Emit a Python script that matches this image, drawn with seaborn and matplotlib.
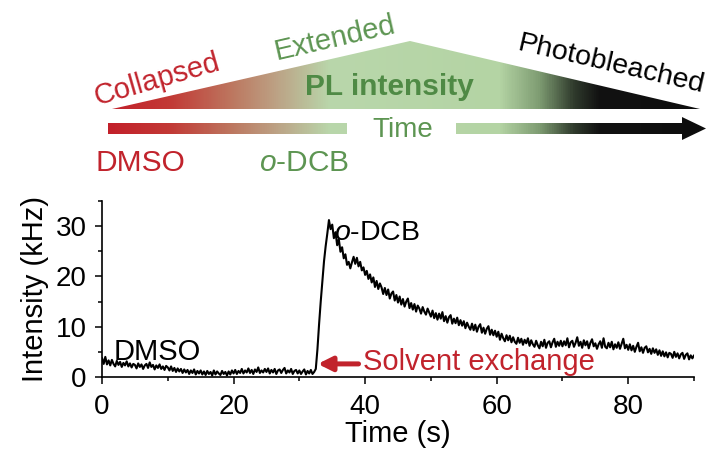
import numpy as np
import pandas as pd
import matplotlib
matplotlib.use("Agg")
import matplotlib.pyplot as plt
import seaborn as sns
from matplotlib.colors import LinearSegmentedColormap
from matplotlib.patches import Polygon, Rectangle

# Photoluminescence trace sampled every 0.25 s (kHz)
time_step = 0.25
intensity = [
    # 0 - 5 s
    3.8, 2.6, 4.0, 2.5, 3.3, 2.3, 3.4, 2.6, 2.1, 3.2, 2.4, 3.0, 2.0, 2.8, 2.3, 3.1, 2.1, 2.7, 1.9, 2.6,
    # 5 - 10 s
    2.4, 1.7, 2.7, 2.0, 2.5, 1.6, 2.3, 2.6, 1.8, 2.9, 2.0, 2.4, 1.5, 2.3, 1.8, 2.5, 1.6, 2.1, 1.4, 2.2,
    # 10 - 15 s
    1.9, 1.3, 2.1, 1.2, 1.8, 1.0, 1.7, 1.1, 1.6, 0.8, 1.5, 0.9, 1.4, 0.6, 1.3, 0.8, 1.5, 0.5, 1.2, 0.7,
    # 15 - 20 s
    1.3, 0.5, 1.1, 0.4, 1.2, 0.6, 1.0, 0.3, 1.3, 0.5, 1.1, 0.7, 0.4, 1.2, 0.6, 1.0, 0.3, 1.1, 0.5, 1.3,
    # 20 - 25 s
    0.7, 1.4, 0.6, 1.2, 0.8, 1.6, 0.7, 1.3, 0.9, 1.7, 0.8, 1.4, 0.6, 1.5, 1.0, 1.9, 0.8, 1.3, 0.9, 1.6,
    # 25 - 30 s
    1.0, 1.7, 0.7, 1.4, 0.9, 1.6, 0.6, 1.3, 1.5, 0.8, 1.4, 1.8, 0.7, 1.3, 0.9, 1.6, 0.6, 1.2, 1.4, 0.7,
    # 30 - 35 s (solvent exchange)
    1.3, 0.6, 1.1, 1.5, 0.5, 1.2, 0.7, 1.4, 0.6, 1.0, 1.6, 5.5, 10.5, 15.0, 19.0, 23.0, 26.0, 28.5, 31.2, 29.4,
    # 35 - 40 s
    30.3, 27.6, 28.8, 26.2, 27.4, 24.9, 25.8, 23.6, 24.4, 22.3, 22.9, 21.6, 22.8, 23.9, 22.5, 23.7, 22.0, 22.9, 21.2, 21.8,
    # 40 - 45 s
    20.3, 21.1, 19.5, 20.4, 18.8, 19.8, 17.9, 19.1, 17.5, 18.6, 17.8, 16.5, 17.7, 16.3, 17.4, 15.6, 16.6, 17.0, 15.2, 16.3,
    # 45 - 50 s
    14.8, 16.0, 14.4, 15.5, 14.0, 15.0, 15.6, 13.7, 14.7, 13.4, 14.5, 13.0, 14.2, 13.6, 12.6, 13.9, 13.0, 12.4, 13.6, 12.8,
    # 50 - 55 s
    12.0, 13.2, 11.7, 12.7, 11.4, 12.6, 11.6, 12.9, 11.1, 12.1, 10.8, 11.9, 12.3, 10.6, 11.6, 10.7, 11.8, 10.3, 11.3, 10.2,
    # 55 - 60 s
    11.1, 9.7, 10.8, 10.0, 9.4, 10.6, 9.3, 10.4, 9.0, 10.0, 10.5, 8.8, 9.8, 8.6, 9.6, 10.1, 8.4, 9.4, 8.3, 9.2,
    # 60 - 65 s
    8.0, 9.0, 7.4, 8.6, 7.7, 7.1, 8.3, 7.3, 8.2, 6.9, 7.9, 7.0, 6.6, 7.8, 6.8, 7.6, 6.4, 7.4, 6.7, 7.7,
    # 65 - 70 s
    6.2, 7.3, 6.5, 6.0, 7.2, 6.3, 5.7, 7.0, 6.1, 7.4, 5.8, 6.8, 7.1, 5.9, 6.9, 7.6, 6.0, 7.0, 6.2, 7.2,
    # 70 - 75 s
    6.1, 7.1, 6.3, 7.7, 5.9, 6.9, 7.2, 6.0, 6.8, 7.9, 6.2, 7.0, 5.8, 7.3, 6.3, 7.1, 5.7, 6.8, 7.5, 6.1,
    # 75 - 80 s
    6.7, 5.6, 6.5, 7.1, 5.8, 7.7, 6.0, 5.7, 6.8, 5.9, 7.0, 5.5, 6.5, 5.8, 6.9, 5.6, 6.6, 7.6, 5.7, 6.4,
    # 80 - 85 s
    5.4, 6.5, 5.3, 6.2, 5.0, 6.0, 6.8, 5.1, 5.9, 4.8, 5.8, 6.1, 4.9, 5.6, 4.6, 5.7, 4.8, 5.5, 4.4, 5.3,
    # 85 - 90 s
    4.2, 5.1, 4.1, 4.9, 3.9, 4.8, 4.6, 3.8, 5.0, 4.0, 4.7, 3.7, 4.5, 4.8, 3.6, 4.4, 4.7, 3.5, 4.3, 3.7,
    4.3,
]
time_s = np.arange(len(intensity)) * time_step

x_ticks = [0, 20, 40, 60, 80]
y_ticks = [0, 10, 20, 30]

RED = "#c1232c"
GREEN = "#4f8a45"
LIGHT_GREEN = "#5d9552"

sns.set_theme(style="ticks")
plt.rcParams["font.family"] = ["Liberation Sans", "DejaVu Sans"]
plt.rcParams["mathtext.fontset"] = "custom"
plt.rcParams["mathtext.rm"] = "Liberation Sans"
plt.rcParams["mathtext.it"] = "Liberation Sans:italic"

fig = plt.figure(figsize=(7.07, 4.57), dpi=100)

# ---- schematic: PL intensity vs. time, drawn in pixel coordinates ----
sk = fig.add_axes([0, 0, 1, 1])
sk.axis("off")

stops_px = [108, 170, 230, 280, 330, 500, 540, 575, 600, 706]
stops_col = ["#c3202a", "#c23a36", "#bd765f", "#bca688", "#b9d7ab",
             "#b4d4a4", "#7e9c72", "#2f3a2c", "#121212", "#0d0d0d"]
x0, x1 = stops_px[0], stops_px[-1]
cmap = LinearSegmentedColormap.from_list(
    "pl", list(zip([(p - x0) / (x1 - x0) for p in stops_px], stops_col)))
grad = np.linspace(0, 1, 800)[None, :]

shapes = [
    Polygon([(112, 109), (410, 41), (700, 109)], closed=True),
    Rectangle((108, 123), 239, 11),
    Polygon([(456, 123), (682, 123), (682, 117), (706, 128.5),
             (682, 140), (682, 134), (456, 134)], closed=True),
]
for shp in shapes:
    shp.set_facecolor("none")
    shp.set_edgecolor("none")
    sk.add_patch(shp)
    im = sk.imshow(grad, cmap=cmap, extent=[x0, x1, 145, 30],
                   aspect="auto", interpolation="bilinear")
    im.set_clip_path(shp)
sk.set_xlim(0, 707)
sk.set_ylim(457, 0)

sk.text(157, 80, "Collapsed", color=RED, fontsize=21, rotation=16,
        ha="center", va="center", rotation_mode="anchor")
sk.text(335, 38, "Extended", color=LIGHT_GREEN, fontsize=21, rotation=13,
        ha="center", va="center", rotation_mode="anchor")
sk.text(389, 87, "PL intensity", color=GREEN, fontsize=21.5, fontweight="bold",
        ha="center", va="center")
sk.text(611, 65, "Photobleached", color="black", fontsize=20.5, rotation=-13,
        ha="center", va="center", rotation_mode="anchor")
sk.text(403, 130, "Time", color=LIGHT_GREEN, fontsize=20,
        ha="center", va="center")
sk.text(140, 163, "DMSO", color=RED, fontsize=21.5, ha="center", va="center")
sk.text(304, 163, r"$\mathit{o}$-DCB", color=LIGHT_GREEN, fontsize=21.5,
        ha="center", va="center")

# ---- intensity trace ----
ax = fig.add_axes([0.1443, 0.1751, 0.8373, 0.3851])
ax.patch.set_alpha(0)
trace = pd.DataFrame({"Time (s)": time_s, "Intensity (kHz)": intensity})
sns.lineplot(data=trace, x="Time (s)", y="Intensity (kHz)", ax=ax,
             color="black", linewidth=1.5)

ax.set_xlim(0, 90)
ax.set_ylim(0, 35)
ax.set_xticks(x_ticks)
ax.set_yticks(y_ticks)
ax.set_xticks([10, 30, 50, 70, 90], minor=True)
ax.set_yticks([5, 15, 25, 35], minor=True)
ax.tick_params(axis="both", which="major", length=5, width=1.1,
               labelsize=20, color="black", labelcolor="black")
ax.tick_params(axis="x", which="major", pad=7)
ax.tick_params(axis="y", which="major", pad=6)
ax.tick_params(axis="both", which="minor", length=3, width=1.1, color="black")
for side in ("top", "right"):
    ax.spines[side].set_visible(False)
for side in ("left", "bottom"):
    ax.spines[side].set_linewidth(1.2)
    ax.spines[side].set_color("black")
ax.set_xlabel("Time (s)", fontsize=21, labelpad=0, color="black")
ax.set_ylabel("Intensity (kHz)", fontsize=21, labelpad=5, color="black")

ax.text(1.7, 3.4, "DMSO", fontsize=21, color="black", ha="left", va="baseline")
ax.text(35.3, 27.3, r"$\mathit{o}$-DCB", fontsize=20.5, color="black",
        ha="left", va="baseline")
ax.text(39.7, 1.4, "Solvent exchange", fontsize=21, color=RED,
        ha="left", va="baseline")
ax.annotate("", xy=(32.8, 2.6), xytext=(39.0, 2.6),
            arrowprops=dict(arrowstyle="-|>,head_length=0.7,head_width=0.35",
                            color=RED, lw=3.6, shrinkA=0, shrinkB=0))

fig.savefig("out.png", dpi=100)
